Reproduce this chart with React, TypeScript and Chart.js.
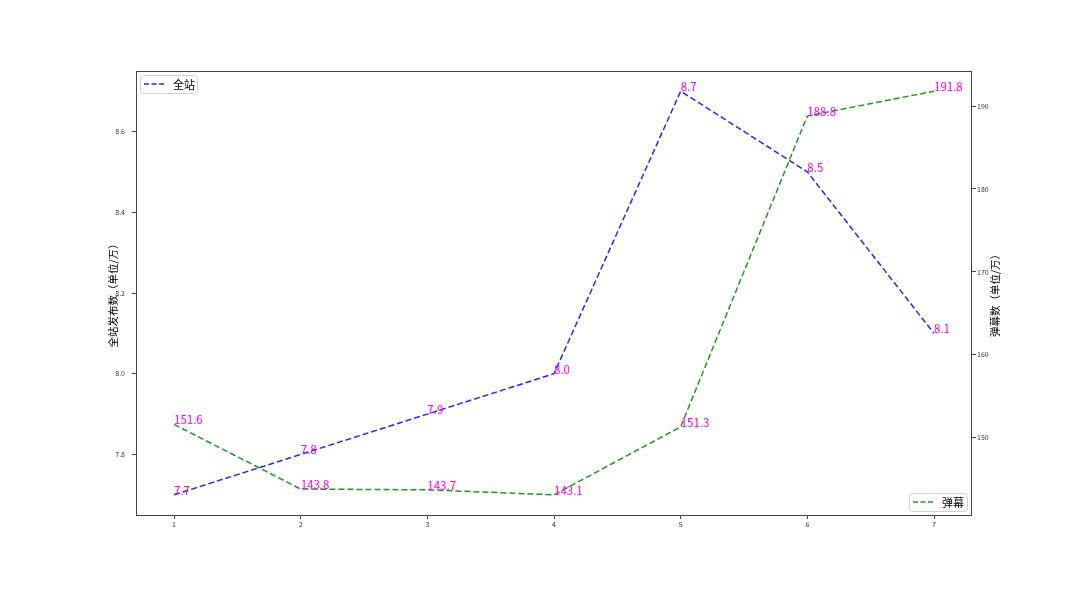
import { useEffect, useRef } from "react";
import { Chart, registerables } from "chart.js";

Chart.register(...registerables);

const days = [1, 2, 3, 4, 5, 6, 7];
const siteCounts = [7.7, 7.8, 7.9, 8.0, 8.7, 8.5, 8.1];
const danmakuCounts = [151.6, 143.8, 143.7, 143.1, 151.3, 188.8, 191.8];
const xTicks = [1, 2, 3, 4, 5, 6, 7];
const leftTicks = [7.8, 8.0, 8.2, 8.4, 8.6];
const rightTicks = [150, 160, 170, 180, 190];

const BLUE = "rgba(0, 0, 255, 0.85)";
const GREEN = "rgba(0, 128, 0, 0.85)";
const LABEL = "#ff00ff";
const FONT = "'Noto Sans CJK SC', sans-serif";
const SPINE = "#444";

const overlay = {
  id: "overlay",
  afterDraw(chart: any) {
    const { ctx, chartArea } = chart;
    const { left, right, top, bottom } = chartArea;
    ctx.save();

    // frame
    ctx.strokeStyle = SPINE;
    ctx.lineWidth = 1;
    ctx.strokeRect(left + 0.5, top + 0.5, right - left - 1, bottom - top);

    // value labels, baseline on the point
    ctx.fillStyle = LABEL;
    ctx.font = `11.5px ${FONT}`;
    ctx.textAlign = "left";
    ctx.textBaseline = "alphabetic";
    const xs = chart.scales.x;
    days.forEach((d, i) => {
      const px = xs.getPixelForValue(d);
      ctx.fillText(siteCounts[i].toFixed(1), px, chart.scales.y.getPixelForValue(siteCounts[i]));
      ctx.fillText(danmakuCounts[i].toFixed(1), px, chart.scales.y1.getPixelForValue(danmakuCounts[i]));
    });

    // axis titles
    ctx.fillStyle = "#000";
    ctx.font = `10.5px ${FONT}`;
    ctx.textAlign = "center";
    ctx.textBaseline = "middle";
    const midY = (top + bottom) / 2;
    ctx.save();
    ctx.translate(113, midY);
    ctx.rotate(-Math.PI / 2);
    ctx.fillText("全站发布数（单位/万）", 0, 0);
    ctx.restore();
    ctx.save();
    ctx.translate(995, midY);
    ctx.rotate(-Math.PI / 2);
    ctx.fillText("弹幕数（单位/万）", 0, 0);
    ctx.restore();

    // legends
    const legend = (x: number, y: number, w: number, h: number, color: string, text: string) => {
      ctx.fillStyle = "rgba(255,255,255,0.8)";
      ctx.strokeStyle = "#d0d0d0";
      ctx.lineWidth = 1;
      ctx.beginPath();
      ctx.roundRect(x + 0.5, y + 0.5, w, h, 3);
      ctx.fill();
      ctx.stroke();
      ctx.strokeStyle = color;
      ctx.lineWidth = 1.5;
      ctx.setLineDash([5, 2.5]);
      ctx.beginPath();
      ctx.moveTo(x + 4, y + h / 2);
      ctx.lineTo(x + 25, y + h / 2);
      ctx.stroke();
      ctx.setLineDash([]);
      ctx.fillStyle = "#000";
      ctx.font = `11px ${FONT}`;
      ctx.textAlign = "left";
      ctx.textBaseline = "middle";
      ctx.fillText(text, x + 33, y + h / 2 + 0.5);
    };
    legend(140, 75, 57, 18, BLUE, "全站");
    legend(909, 493, 58, 18, GREEN, "弹幕");

    ctx.restore();
  },
};

const App = () => {
  const chartRef = useRef<HTMLCanvasElement>(null);

  useEffect(() => {
    if (!chartRef.current) return;
    const ctx = chartRef.current.getContext("2d");
    if (!ctx) return;

    const tickFont = { family: FONT, size: 7 };
    const chart = new Chart(ctx, {
      type: "line",
      data: {
        datasets: [
          {
            label: "全站",
            data: days.map((d, i) => ({ x: d, y: siteCounts[i] })),
            borderColor: BLUE,
            borderWidth: 1.5,
            borderDash: [6, 3],
            pointRadius: 0,
            fill: false,
            yAxisID: "y",
          },
          {
            label: "弹幕",
            data: days.map((d, i) => ({ x: d, y: danmakuCounts[i] })),
            borderColor: GREEN,
            borderWidth: 1.5,
            borderDash: [6, 3],
            pointRadius: 0,
            fill: false,
            yAxisID: "y1",
          },
        ],
      },
      options: {
        animation: false,
        responsive: true,
        maintainAspectRatio: false,
        layout: { padding: { top: 71, left: 0, right: 0, bottom: 0 } },
        plugins: {
          legend: { display: false },
          tooltip: { enabled: false },
        },
        scales: {
          x: {
            type: "linear",
            min: 0.7,
            max: 7.3,
            afterFit: (s: any) => {
              s.height = 74;
            },
            afterBuildTicks: (s: any) => {
              s.ticks = xTicks.map((v) => ({ value: v }));
            },
            grid: { drawOnChartArea: false, tickLength: 4, tickColor: SPINE },
            border: { display: false },
            ticks: { color: "#333", font: tickFont, padding: 1, callback: (v: any) => String(v) },
          },
          y: {
            type: "linear",
            position: "left",
            min: 7.65,
            max: 8.75,
            afterFit: (s: any) => {
              s.width = 136;
            },
            afterBuildTicks: (s: any) => {
              s.ticks = leftTicks.map((v) => ({ value: v }));
            },
            grid: { drawOnChartArea: false, tickLength: 4, tickColor: SPINE },
            border: { display: false },
            ticks: { color: "#333", font: tickFont, padding: 7, callback: (v: any) => Number(v).toFixed(1) },
          },
          y1: {
            type: "linear",
            position: "right",
            min: 140.665,
            max: 194.235,
            afterFit: (s: any) => {
              s.width = 108;
            },
            afterBuildTicks: (s: any) => {
              s.ticks = rightTicks.map((v) => ({ value: v }));
            },
            grid: { drawOnChartArea: false, tickLength: 4, tickColor: SPINE },
            border: { display: false },
            ticks: { color: "#333", font: tickFont, padding: 1, callback: (v: any) => String(v) },
          },
        },
      },
      plugins: [overlay],
    });

    return () => chart.destroy();
  }, []);

  return (
    <div style={{ position: "fixed", left: 0, top: 0, width: 1080, height: 589, background: "#fff" }}>
      <canvas ref={chartRef}></canvas>
    </div>
  );
};

export default App;
